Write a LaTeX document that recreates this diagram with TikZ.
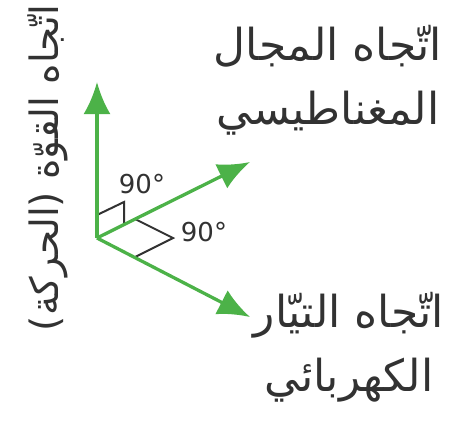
\documentclass[tikz,border=0pt]{standalone}
\usepackage{fontspec}
\newfontfamily\arabicfont[Script=Arabic]{DejaVu Sans}
\newfontfamily\degfont{DejaVu Sans}
\TeXXeTstate=1
\usetikzlibrary{arrows.meta}
\definecolor{vecgreen}{RGB}{76,178,72}
\definecolor{txtgray}{RGB}{50,50,50}
\begin{document}
\begin{tikzpicture}[x=1pt,y=-1pt,
  vec/.style={draw=vecgreen,line width=3.3pt,-{Latex[length=32pt,width=27pt]}},
  rmark/.style={draw=txtgray,line width=2pt,line join=miter},
  lbl/.style={text=txtgray,font=\arabicfont\fontsize{44}{64}\selectfont,align=center,inner sep=0pt},
  vlbl/.style={text=txtgray,font=\arabicfont\fontsize{39}{50}\selectfont,inner sep=0pt},
  deg/.style={text=txtgray,font=\degfont\fontsize{26}{28}\selectfont,inner sep=0pt}]
\useasboundingbox (0,0) rectangle (455,421);
\coordinate (O) at (97,238);
\coordinate (U) at (97,82);
\coordinate (F) at (250,162);
\coordinate (C) at (250,317);
\coordinate (a1) at (97,215);
\coordinate (a2) at (124,202);
\coordinate (a3) at (124,225);
\coordinate (b1) at (135,219);
\coordinate (b2) at (173,238);
\coordinate (b3) at (135,257);
\draw[rmark] (a1) -- (a2) -- (a3);
\draw[rmark] (b1) -- (b2) -- (b3);
\draw[vec] (O) -- (U);
\draw[vec] (O) -- (F);
\draw[vec] (O) -- (C);
\node[deg] (d1) at (142,184) {90°};
\node[deg] (d2) at (204,232) {90°};
\node[lbl] (lf) at (328,80) {\beginR اتّجاه المجال\endR\\\beginR المغناطيسي\endR};
\node[lbl] (lc) at (349,347) {\beginR اتّجاه التيّار\endR\\\beginR الكهربائي\endR};
\node[vlbl,rotate=90] (lu) at (48,168) {\beginR اتّجاه القوّة (الحركة)\endR};
\end{tikzpicture}
\end{document}
